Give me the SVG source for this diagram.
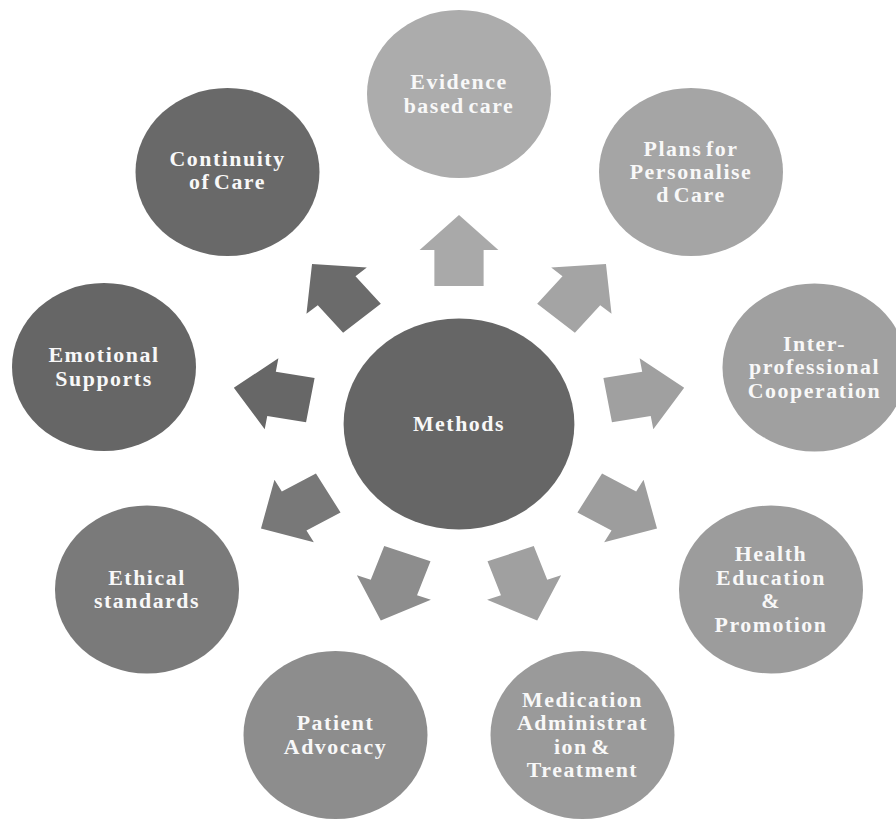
<svg xmlns="http://www.w3.org/2000/svg" xmlns:xlink="http://www.w3.org/1999/xlink" width="896" height="820" viewBox="0 0 896 820">
<style>
.lbl{font-family:"Liberation Serif","Times New Roman",serif;font-weight:bold;font-size:20px;letter-spacing:1.4px;word-spacing:-3px;fill:#f8f8f8;text-anchor:middle}
</style>
<defs>
<polygon id="arw" points="138,-22.5 174,-22.5 174,-36 209,0 174,36 174,22.5 138,22.5"/>
</defs>
<rect width="896" height="820" fill="#ffffff"/>
<g id="connectors">
<use xlink:href="#arw" href="#arw" fill="#a9a9a9" transform="translate(459,424) scale(1.094,1) rotate(-90)"/>
<use xlink:href="#arw" href="#arw" fill="#a4a4a4" transform="translate(459,424) scale(1.094,1) rotate(-50)"/>
<use xlink:href="#arw" href="#arw" fill="#a0a0a0" transform="translate(459,424) scale(1.094,1) rotate(-10)"/>
<use xlink:href="#arw" href="#arw" fill="#9d9d9d" transform="translate(459,424) scale(1.094,1) rotate(30)"/>
<use xlink:href="#arw" href="#arw" fill="#a0a0a0" transform="translate(459,424) scale(1.094,1) rotate(70)"/>
<use xlink:href="#arw" href="#arw" fill="#8d8d8d" transform="translate(459,424) scale(1.094,1) rotate(110)"/>
<use xlink:href="#arw" href="#arw" fill="#787878" transform="translate(459,424) scale(1.094,1) rotate(150)"/>
<use xlink:href="#arw" href="#arw" fill="#676767" transform="translate(459,424) scale(1.094,1) rotate(190)"/>
<use xlink:href="#arw" href="#arw" fill="#6b6b6b" transform="translate(459,424) scale(1.094,1) rotate(230)"/>
</g>
<g id="methods">
<ellipse cx="459" cy="424" rx="115.4" ry="105.5" fill="#666666"/>
<text class="lbl" transform="translate(459,431) scale(1.094,1)"><tspan x="0" y="0">Methods</tspan></text>
</g>
<g id="evidence">
<ellipse cx="459" cy="94" rx="92" ry="84" fill="#acacac"/>
<text class="lbl" transform="translate(459,89.25) scale(1.094,1)"><tspan x="0" y="0">Evidence</tspan><tspan x="0" y="23.5">based care</tspan></text>
</g>
<g id="plans">
<ellipse cx="691" cy="172" rx="92" ry="84" fill="#a5a5a5"/>
<text class="lbl" transform="translate(691,155.5) scale(1.094,1)"><tspan x="0" y="0">Plans for</tspan><tspan x="0" y="23.5">Personalise</tspan><tspan x="0" y="47">d Care</tspan></text>
</g>
<g id="inter">
<ellipse cx="814.5" cy="367.5" rx="92" ry="84" fill="#a0a0a0"/>
<text class="lbl" transform="translate(814.5,351) scale(1.094,1)"><tspan x="0" y="0">Inter-</tspan><tspan x="0" y="23.5">professional</tspan><tspan x="0" y="47">Cooperation</tspan></text>
</g>
<g id="health">
<ellipse cx="771" cy="589.5" rx="92" ry="84" fill="#9c9c9c"/>
<text class="lbl" transform="translate(771,561.25) scale(1.094,1)"><tspan x="0" y="0">Health</tspan><tspan x="0" y="23.5">Education</tspan><tspan x="0" y="47">&amp;</tspan><tspan x="0" y="70.5">Promotion</tspan></text>
</g>
<g id="medication">
<ellipse cx="582.5" cy="735" rx="92" ry="84" fill="#9a9a9a"/>
<text class="lbl" transform="translate(582.5,706.75) scale(1.094,1)"><tspan x="0" y="0">Medication</tspan><tspan x="0" y="23.5">Administrat</tspan><tspan x="0" y="47">ion &amp;</tspan><tspan x="0" y="70.5">Treatment</tspan></text>
</g>
<g id="patient">
<ellipse cx="335.5" cy="735" rx="92" ry="84" fill="#8d8d8d"/>
<text class="lbl" transform="translate(335.5,730.25) scale(1.094,1)"><tspan x="0" y="0">Patient</tspan><tspan x="0" y="23.5">Advocacy</tspan></text>
</g>
<g id="ethical">
<ellipse cx="147" cy="589.5" rx="92" ry="84" fill="#7a7a7a"/>
<text class="lbl" transform="translate(147,584.75) scale(1.094,1)"><tspan x="0" y="0">Ethical</tspan><tspan x="0" y="23.5">standards</tspan></text>
</g>
<g id="emotional">
<ellipse cx="104" cy="367" rx="92" ry="84" fill="#666666"/>
<text class="lbl" transform="translate(104,362.25) scale(1.094,1)"><tspan x="0" y="0">Emotional</tspan><tspan x="0" y="23.5">Supports</tspan></text>
</g>
<g id="continuity">
<ellipse cx="227.5" cy="172" rx="92" ry="84" fill="#696969"/>
<text class="lbl" transform="translate(227.5,166) scale(1.094,1)"><tspan x="0" y="0">Continuity</tspan><tspan x="0" y="23.5">of Care</tspan></text>
</g>
</svg>
